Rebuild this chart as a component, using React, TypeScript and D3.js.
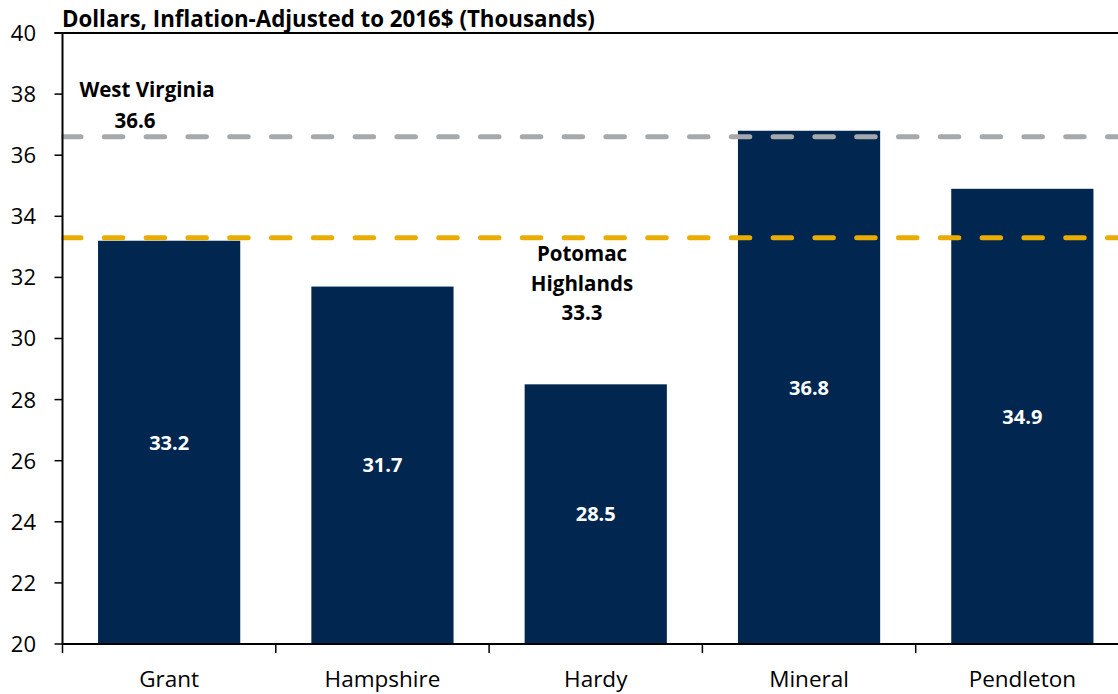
import React from "react";
import * as d3 from "d3";

const categories = ["Grant", "Hampshire", "Hardy", "Mineral", "Pendleton"];
const values = [33.2, 31.7, 28.5, 36.8, 34.9];
const yTicks = [20, 22, 24, 26, 28, 30, 32, 34, 36, 38, 40];
const westVirginia = 36.6;
const potomacHighlands = 33.3;
const title = "Dollars, Inflation-Adjusted to 2016$ (Thousands)";

const W = 1118;
const H = 694;
const left = 62.5;
const right = 1129;
const top = 33;
const bottom = 644;
const FONT = "'Open Sans', sans-serif";

export default function App() {
  const x = d3.scaleBand<string>().domain(categories).range([left, right]).paddingInner(1 / 3).paddingOuter(1 / 6);
  const xb = d3.scaleBand<string>().domain(categories).range([left, right]);
  const y = d3.scaleLinear().domain([20, 40]).range([bottom, top]);
  const navy = "#012751";
  return (
    <svg width={W} height={H} style={{ position: "absolute", left: 0, top: 0, background: "#fff" }} fontFamily={FONT}>
      <text x={62} y={27} fontSize={22.3} fontWeight="bold" fill="#000">{title}</text>
      {categories.map((c, i) => (
        <rect key={c} x={x(c)} y={y(values[i])} width={x.bandwidth()} height={y(20) - y(values[i])} fill={navy} />
      ))}
      <line x1={left} x2={W + 10} y1={y(westVirginia)} y2={y(westVirginia)} stroke="#A6A9AC" strokeWidth={5} strokeDasharray="18.5 23.3" strokeLinecap="round" />
      <line x1={left} x2={W + 10} y1={y(potomacHighlands)} y2={y(potomacHighlands)} stroke="#EBAC00" strokeWidth={5} strokeDasharray="18.5 23.3" strokeLinecap="round" />
      <rect x={0} y={top} width={left - 1} height={bottom - top} fill="#fff" />
      <line x1={left} x2={left} y1={top} y2={bottom} stroke="#000" strokeWidth={2} />
      <line x1={left - 8} x2={W} y1={top} y2={top} stroke="#000" strokeWidth={2} />
      <line x1={left} x2={W} y1={bottom} y2={bottom} stroke="#000" strokeWidth={2} />
      {yTicks.map((t) => (
        <g key={t}>
          <line x1={left - 8} x2={left} y1={y(t)} y2={y(t)} stroke="#000" strokeWidth={1.5} />
          <text x={36} y={y(t)} dy="0.36em" textAnchor="end" fontSize={22} fill="#000">{t}</text>
        </g>
      ))}
      {categories.map((c, i) => (
        <g key={c}>
          <line x1={xb(c) as number} x2={xb(c) as number} y1={bottom} y2={bottom + 9} stroke="#000" strokeWidth={1.5} />
          <text x={(xb(c) as number) + xb.bandwidth() / 2} y={687} textAnchor="middle" fontSize={22.5} fill="#000">{c}</text>
          <text x={(x(c) as number) + x.bandwidth() / 2} y={(y(values[i]) + y(20)) / 2} dy="0.36em" textAnchor="middle" fontSize={20} fontWeight="bold" fill="#fff">{values[i].toFixed(1)}</text>
        </g>
      ))}
      <text x={147} y={97} textAnchor="middle" fontSize={20.5} fontWeight="bold" fill="#000">West Virginia</text>
      <text x={135} y={128} textAnchor="middle" fontSize={20.5} fontWeight="bold" fill="#000">{westVirginia.toFixed(1)}</text>
      <text textAnchor="middle" fontSize={20.5} fontWeight="bold" fill="#000">
        <tspan x={582} y={261}>Potomac</tspan>
        <tspan x={582} y={291}>Highlands</tspan>
        <tspan x={582} y={320}>{potomacHighlands.toFixed(1)}</tspan>
      </text>
    </svg>
  );
}
